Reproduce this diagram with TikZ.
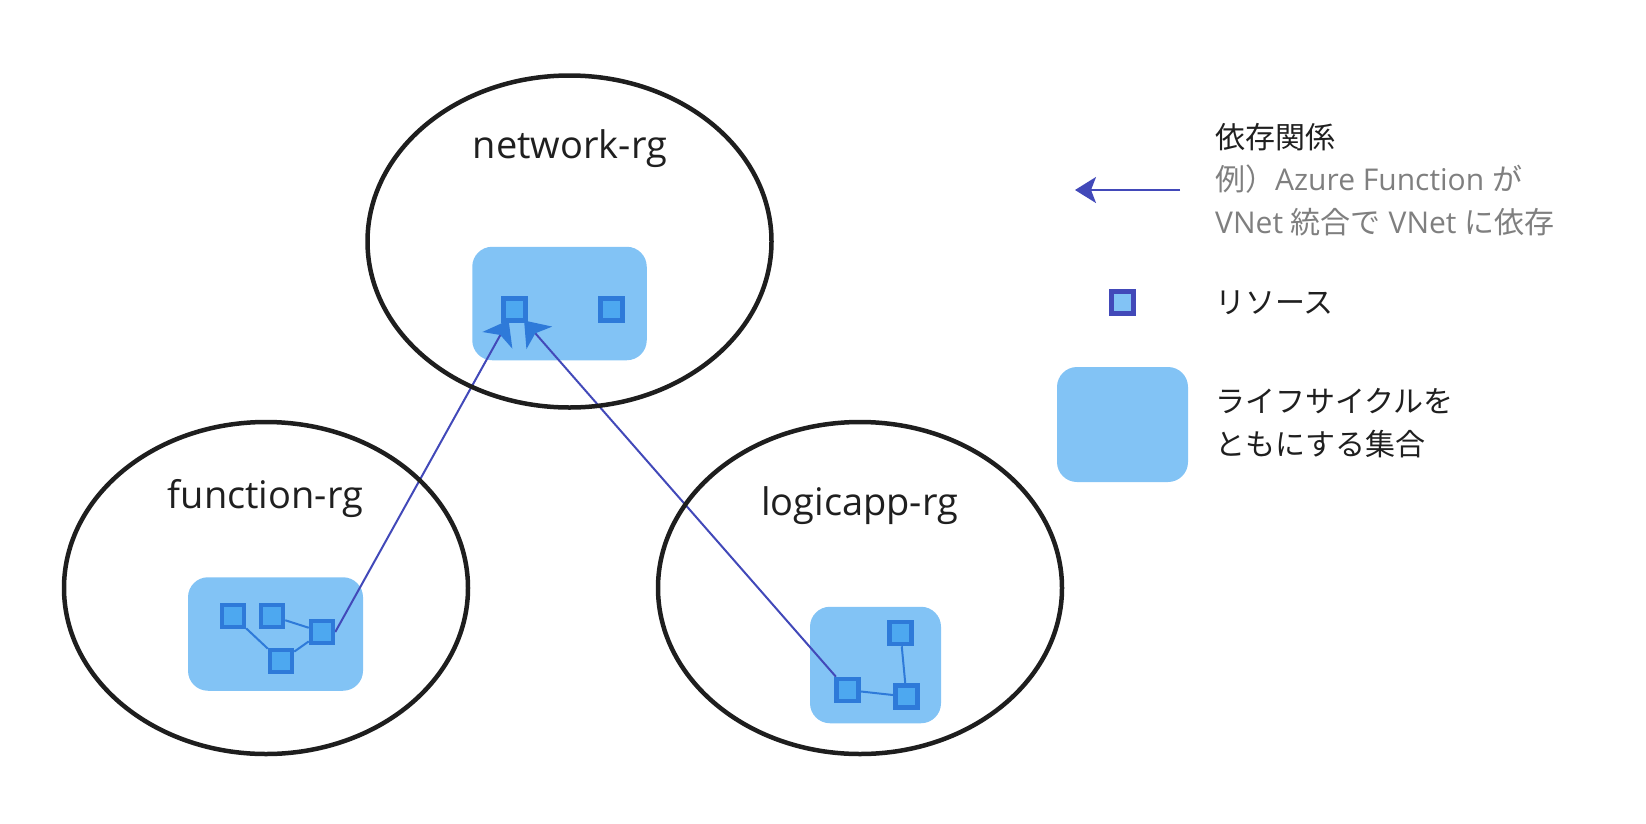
\documentclass[tikz,border=0pt]{standalone}
\usepackage{fontspec}
\setmainfont{Open Sans}
\newfontfamily\jp{Noto Sans CJK JP}
\usetikzlibrary{shapes.geometric,arrows.meta}
\definecolor{rgline}{HTML}{1E1E1E}
\definecolor{labeltext}{HTML}{1F1F1F}
\definecolor{boxfill}{HTML}{82C3F5}
\definecolor{sqfill}{HTML}{4DA8F0}
\definecolor{sqline}{HTML}{2E7AD9}
\definecolor{depline}{HTML}{4249B9}
\definecolor{notegray}{HTML}{7F7F7F}
\pgfdeclarelayer{boxes}
\pgfdeclarelayer{deps}
\pgfsetlayers{boxes,deps,main}
\def\sq{22pt}
\tikzset{
    rg/.style={ellipse,draw=rgline,line width=4.5pt,minimum width=404pt,minimum height=332pt},
    rglabel/.style={anchor=base,inner sep=0pt,text=labeltext,font=\fontsize{38}{44}\selectfont},
    lifebox/.style={rectangle,rounded corners=20pt,fill=boxfill,inner sep=0pt},
    res/.style={rectangle,draw=sqline,fill=sqfill,line width=4.5pt,minimum size=\sq,inner sep=0pt},
    link/.style={draw=sqline,line width=2pt},
    dep/.style={draw=depline,line width=2pt,-{Stealth[length=21pt,width=26pt,inset=5pt]}},
    legtext/.style={anchor=base west,inner sep=0pt,align=left,text=labeltext,font=\fontsize{30}{42.5}\selectfont}}

\begin{document}
\begin{tikzpicture}[x=1pt,y=-1pt]
    \useasboundingbox (0,0) rectangle (1646,823);
    \node[rg] (netrg) at (569.5,241.5) {};
    \node[rg] (funcrg) at (266,588) {};
    \node[rg] (logicrg) at (860,588) {};
    \node[rglabel] (netlabel) at (570,158) {network-rg};
    \node[rglabel] (funclabel) at (265.5,508) {function-rg};
    \node[rglabel] (logiclabel) at (859.5,515) {logicapp-rg};

    \begin{pgfonlayer}{boxes}
      \node[lifebox,minimum width=174.5pt,minimum height=113.5pt] (netbox) at (559.5,303.5) {};
      \node[lifebox,minimum width=175pt,minimum height=113.5pt] (funcbox) at (275.5,634) {};
      \node[lifebox,minimum width=131pt,minimum height=116.5pt] (logicbox) at (875.5,665) {};
      \node[lifebox,minimum width=131pt,minimum height=115pt] (legbox) at (1122.5,424.5) {};
    \end{pgfonlayer}

    \foreach \n/\x/\y in {nA/514.5/309.5,nB/611.5/309.5,
                          fA/233/616,fB/272/616,fC/322/632,fD/281/661,
                          lE/900.5/633,lF/847.5/690,lG/906.5/696.5}
      \node[res] (\n) at (\x,\y) {};
    \foreach \a/\b in {fA/fD,fB/fC,fD/fC,lE/lG,lF/lG}
      \path[link] (\a) -- (\b);

    \begin{pgfonlayer}{deps}
      \path[dep,-{Stealth[length=23pt,width=34pt,inset=6pt,color=sqline]},shorten >=-3pt] (fC.east) -- (nA);
      \path[dep,-{Stealth[length=23pt,width=34pt,inset=6pt,color=sqline]},shorten >=-3pt] (lF) -- (nA);
    \end{pgfonlayer}

    \coordinate (legfrom) at (1180,190);
    \coordinate (legto) at (1075,190);
    \path[dep] (legfrom) -- (legto);
    \node[res,draw=depline,fill=boxfill] (legres) at (1122.5,302.5) {};

    \node[legtext] (depnote) at (1215,233) {{\jp 依存関係}\\
      \textcolor{notegray}{{\jp 例）}Azure Function {\jp が}}\\
      \textcolor{notegray}{VNet {\jp 統合で} VNet {\jp に依存}}};
    \node[legtext] (resnote) at (1215,313) {{\jp リソース}};
    \node[legtext] (boxnote) at (1215,455) {{\jp ライフサイクルを}\\{\jp ともにする集合}};
\end{tikzpicture}
\end{document}
